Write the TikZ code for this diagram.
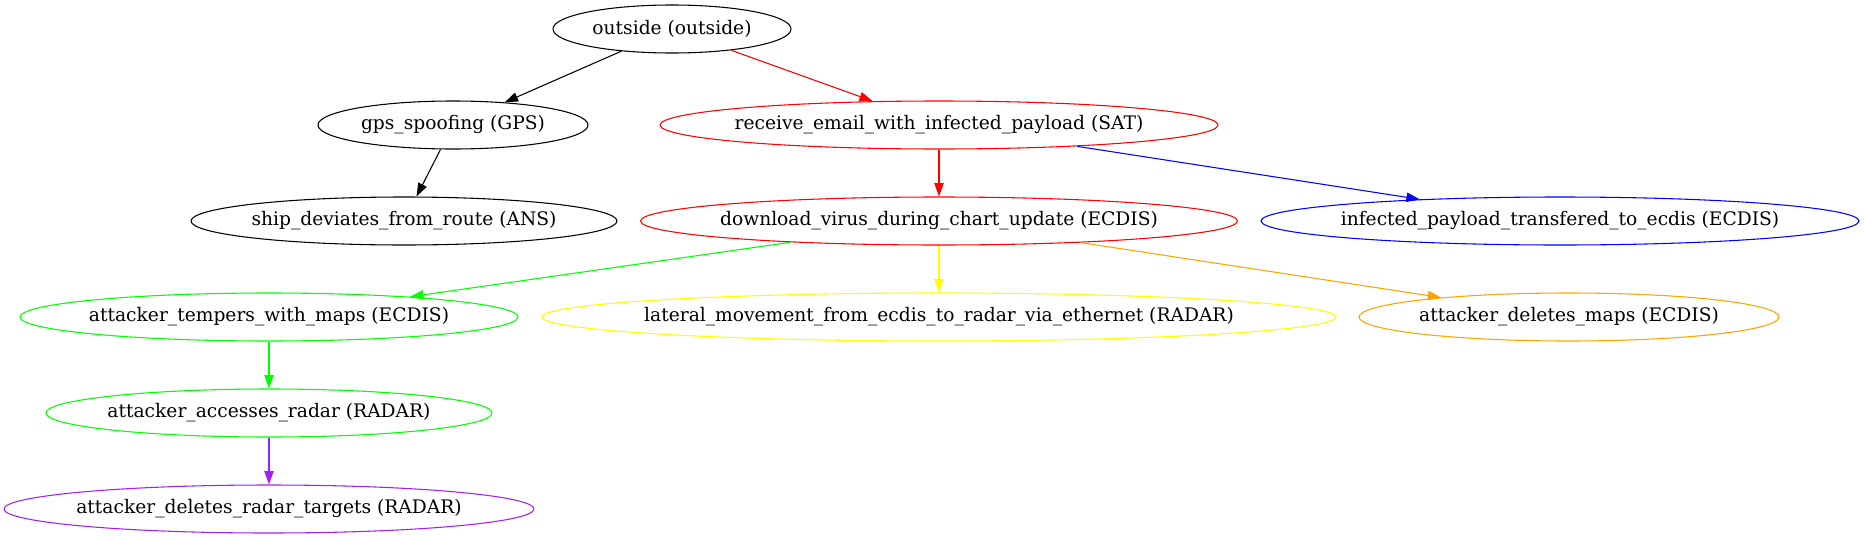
\documentclass[tikz,border=0pt]{standalone}
\usepackage{fontspec}
\setmainfont{DejaVu Serif}
\usetikzlibrary{shapes.geometric, arrows.meta}
\definecolor{gvgreen}{RGB}{0,255,0}
\definecolor{gvyellow}{RGB}{255,255,0}
\definecolor{gvorange}{RGB}{255,165,0}
\definecolor{gvpurple}{RGB}{160,32,240}
\newcommand{\lbl}[1]{\makebox[0pt]{#1}} % zero width text, the ellipse gets its size from minimum width
\tikzset{
    ->, % makes the edges directed
    >={Triangle[length=10pt, width=7pt]}, % filled heads as in dot
    attack/.style={ellipse, draw, minimum height=36pt, inner sep=0pt, font=\fontsize{14}{16}\selectfont}, % one step of the attack tree
}

\begin{document}
\begin{tikzpicture}[x=0.75pt, y=-0.75pt, line width=0.8pt]
\useasboundingbox (0,0) rectangle (1865,539);
\node[attack, minimum width=178.5pt]                 (outside)  at (672,29)   {\lbl{outside (outside)}};
\node[attack, minimum width=202.5pt]                 (gps)      at (453,125)  {\lbl{gps\_spoofing (GPS)}};
\node[attack, draw=red, minimum width=418.5pt]       (email)    at (939,125)  {\lbl{receive\_email\_with\_infected\_payload (SAT)}};
\node[attack, minimum width=319.5pt]                 (ship)     at (404,221)  {\lbl{ship\_deviates\_from\_route (ANS)}};
\node[attack, draw=red, minimum width=447.75pt]      (virus)    at (939,221)  {\lbl{download\_virus\_during\_chart\_update (ECDIS)}};
\node[attack, draw=blue, minimum width=448.5pt]      (payload)  at (1560,221) {\lbl{infected\_payload\_transfered\_to\_ecdis (ECDIS)}};
\node[attack, draw=gvgreen, minimum width=373.5pt]   (tempers)  at (269,317)  {\lbl{attacker\_tempers\_with\_maps (ECDIS)}};
\node[attack, draw=gvyellow, minimum width=595.5pt]  (lateral)  at (939,317)  {\lbl{lateral\_movement\_from\_ecdis\_to\_radar\_via\_ethernet (RADAR)}};
\node[attack, draw=gvorange, minimum width=315pt]    (delmaps)  at (1569,317) {\lbl{attacker\_deletes\_maps (ECDIS)}};
\node[attack, draw=gvgreen, minimum width=334.5pt]   (radar)    at (269,413)  {\lbl{attacker\_accesses\_radar (RADAR)}};
\node[attack, draw=gvpurple, minimum width=397.5pt]  (targets)  at (269,509)  {\lbl{attacker\_deletes\_radar\_targets (RADAR)}};
\draw
(outside) edge[black]     (gps)
(outside) edge[red]       (email)
(gps)     edge[black]     (ship)
(email)   edge[red]       (virus)
(email)   edge[blue]      (payload)
(virus)   edge[gvgreen]   (tempers)
(virus)   edge[gvyellow]  (lateral)
(virus)   edge[gvorange]  (delmaps)
(tempers) edge[gvgreen]   (radar)
(radar)   edge[gvpurple]  (targets);
\end{tikzpicture}
\end{document}
